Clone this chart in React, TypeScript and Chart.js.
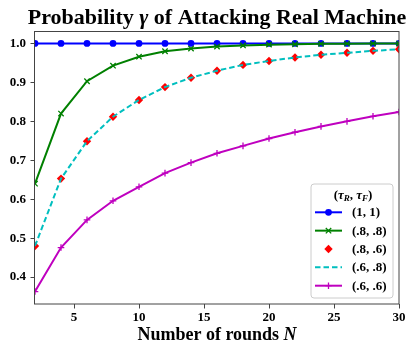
import React, { useEffect, useRef } from 'react';
import { Chart, registerables } from 'chart.js';

Chart.register(...registerables);

// ---- data ----
const rounds = [2, 4, 6, 8, 10, 12, 14, 16, 18, 20, 22, 24, 26, 28, 30];
const gamma11 = [1, 1, 1, 1, 1, 1, 1, 1, 1, 1, 1, 1, 1, 1, 1];
const gamma88 = [0.64, 0.82, 0.903, 0.943, 0.966, 0.98, 0.987, 0.992, 0.995, 0.997, 0.998, 0.999, 0.9995, 0.9997, 0.9998];
const gamma86 = [0.48, 0.653, 0.749, 0.812, 0.855, 0.888, 0.912, 0.93, 0.945, 0.955, 0.964, 0.971, 0.976, 0.981, 0.985];
const gamma68 = [0.48, 0.653, 0.749, 0.812, 0.855, 0.888, 0.912, 0.93, 0.945, 0.955, 0.964, 0.971, 0.976, 0.981, 0.985];
const gamma66 = [0.363, 0.476, 0.547, 0.596, 0.632, 0.667, 0.694, 0.718, 0.737, 0.756, 0.772, 0.787, 0.8, 0.813, 0.824];
const xTicks = [5, 10, 15, 20, 25, 30];
const yTicks = [0.4, 0.5, 0.6, 0.7, 0.8, 0.9, 1.0];
const seriesLabels = ['(1, 1)', '(.8, .8)', '(.8, .6)', '(.6, .8)', '(.6, .6)'];
const titleParts = ['Probability ', 'γ', ' of Attacking Real Machine'];
const xTitleParts = ['Number of rounds ', 'N'];

const FONT = "'Liberation Serif', 'Times New Roman', serif";
const BLUE = '#0000ff';
const GREEN = '#008000';
const RED = '#ff0000';
const CYAN = '#00bfbf';
const MAGENTA = '#bf00bf';
const SPINE = '#444444';

type Part = { t: string; font: string; dy?: number };

function drawRich(ctx: CanvasRenderingContext2D, parts: Part[], cx: number, y: number) {
  let total = 0;
  for (const p of parts) {
    ctx.font = p.font;
    total += ctx.measureText(p.t).width;
  }
  let x = cx - total / 2;
  ctx.textAlign = 'left';
  for (const p of parts) {
    ctx.font = p.font;
    ctx.fillText(p.t, x, y + (p.dy || 0));
    x += ctx.measureText(p.t).width;
  }
}

function drawMarker(ctx: CanvasRenderingContext2D, style: string, x: number, y: number, color: string) {
  ctx.save();
  ctx.fillStyle = color;
  ctx.strokeStyle = color;
  ctx.lineWidth = 1.3;
  ctx.beginPath();
  if (style === 'circle') {
    ctx.arc(x, y, 3.4, 0, Math.PI * 2);
    ctx.fill();
  } else if (style === 'crossRot') {
    const r = 3.2 * Math.SQRT1_2 * 1.2;
    ctx.moveTo(x - r, y - r); ctx.lineTo(x + r, y + r);
    ctx.moveTo(x - r, y + r); ctx.lineTo(x + r, y - r);
    ctx.stroke();
  } else if (style === 'rectRot') {
    const r = 4.2;
    ctx.moveTo(x - r, y); ctx.lineTo(x, y - r); ctx.lineTo(x + r, y); ctx.lineTo(x, y + r);
    ctx.closePath();
    ctx.fill();
  } else if (style === 'cross') {
    const r = 3.3;
    ctx.moveTo(x - r, y); ctx.lineTo(x + r, y);
    ctx.moveTo(x, y - r); ctx.lineTo(x, y + r);
    ctx.stroke();
  }
  ctx.restore();
}

const legendStyles = [
  { color: BLUE, line: true, dash: [] as number[], marker: 'circle' },
  { color: GREEN, line: true, dash: [] as number[], marker: 'crossRot' },
  { color: RED, line: false, dash: [] as number[], marker: 'rectRot' },
  { color: CYAN, line: true, dash: [5.5, 3], marker: '' },
  { color: MAGENTA, line: true, dash: [] as number[], marker: 'cross' },
];

const decorPlugin = {
  id: 'decor',
  afterDatasetsDraw(chart: any) {
    const { ctx, chartArea } = chart;
    const { left, right, top, bottom } = chartArea;
    ctx.save();
    ctx.strokeStyle = SPINE;
    ctx.lineWidth = 1;
    ctx.strokeRect(Math.round(left) - 0.5, Math.round(top) + 0.5, Math.round(right - left) + 0.5, Math.round(bottom - top) - 0.5);
    ctx.restore();
  },
  afterDraw(chart: any) {
    const { ctx, chartArea } = chart;
    const cx = (chartArea.left + chartArea.right) / 2;
    ctx.save();
    ctx.fillStyle = '#000';
    ctx.textBaseline = 'alphabetic';
    // title
    drawRich(ctx, [
      { t: titleParts[0], font: `bold 22px ${FONT}` },
      { t: titleParts[1], font: `italic bold 22px ${FONT}` },
      { t: titleParts[2], font: `bold 22px ${FONT}` },
    ], cx, 23.5);
    // x axis title
    drawRich(ctx, [
      { t: xTitleParts[0], font: `bold 18px ${FONT}` },
      { t: xTitleParts[1], font: `italic bold 18px ${FONT}` },
    ], cx, chartArea.bottom + 36);

    // legend
    const bx = chartArea.right - 88;
    const by = chartArea.bottom - 120;
    const bw = 82;
    const bh = 114;
    ctx.beginPath();
    const rr = 3;
    ctx.moveTo(bx + rr, by);
    ctx.arcTo(bx + bw, by, bx + bw, by + bh, rr);
    ctx.arcTo(bx + bw, by + bh, bx, by + bh, rr);
    ctx.arcTo(bx, by + bh, bx, by, rr);
    ctx.arcTo(bx, by, bx + bw, by, rr);
    ctx.closePath();
    ctx.fillStyle = 'rgba(255,255,255,0.85)';
    ctx.fill();
    ctx.strokeStyle = '#cccccc';
    ctx.lineWidth = 1;
    ctx.stroke();

    ctx.fillStyle = '#000';
    const big = `bold 13px ${FONT}`;
    const tau = `italic bold 13px ${FONT}`;
    const sub = `italic bold 9px ${FONT}`;
    drawRich(ctx, [
      { t: '(', font: big },
      { t: 'τ', font: tau },
      { t: 'R', font: sub, dy: 2.5 },
      { t: ', ', font: big },
      { t: 'τ', font: tau },
      { t: 'F', font: sub, dy: 2.5 },
      { t: ')', font: big },
    ], bx + 42, by + 14.5);

    for (let i = 0; i < seriesLabels.length; i++) {
      const s = legendStyles[i];
      const ry = by + 28.3 + i * 18.35;
      const lx0 = bx + 4;
      const lx1 = bx + 31;
      if (s.line) {
        ctx.save();
        ctx.strokeStyle = s.color;
        ctx.lineWidth = 2;
        ctx.setLineDash(s.dash);
        ctx.beginPath();
        ctx.moveTo(lx0, ry);
        ctx.lineTo(lx1, ry);
        ctx.stroke();
        ctx.restore();
      }
      if (s.marker) drawMarker(ctx, s.marker, (lx0 + lx1) / 2, ry, s.color);
      ctx.font = big;
      ctx.textAlign = 'left';
      ctx.textBaseline = 'middle';
      ctx.fillStyle = '#000';
      ctx.fillText(seriesLabels[i], bx + 41, ry + 0.5);
    }
    ctx.restore();
  },
};

export default function App() {
  const ref = useRef<HTMLCanvasElement | null>(null);
  useEffect(() => {
    document.body.style.margin = '0';
    const canvas = ref.current;
    if (!canvas) return;
    const mk = (vals: number[]) => rounds.map((x, i) => ({ x, y: vals[i] }));
    const chart = new Chart(canvas, {
      type: 'line',
      data: {
        datasets: [
          {
            label: seriesLabels[0], data: mk(gamma11), borderColor: BLUE, backgroundColor: BLUE,
            borderWidth: 2, pointStyle: 'circle', pointRadius: 3.4, pointBorderWidth: 0, order: 5, clip: 0,
          },
          {
            label: seriesLabels[1], data: mk(gamma88), borderColor: GREEN, backgroundColor: GREEN,
            borderWidth: 2, pointStyle: 'crossRot', pointRadius: 3.8, pointBorderWidth: 1.3, order: 4, clip: 0,
          },
          {
            label: seriesLabels[2], data: mk(gamma86), borderColor: RED, backgroundColor: RED,
            showLine: false, pointStyle: 'rectRot', pointRadius: 4.2, pointBorderWidth: 0, order: 3, clip: 0,
          },
          {
            label: seriesLabels[3], data: mk(gamma68), borderColor: CYAN, backgroundColor: CYAN,
            borderWidth: 2, borderDash: [5.5, 3], pointRadius: 0, order: 2, clip: 0,
          },
          {
            label: seriesLabels[4], data: mk(gamma66), borderColor: MAGENTA, backgroundColor: MAGENTA,
            borderWidth: 2, pointStyle: 'cross', pointRadius: 3.3, pointBorderWidth: 1.3, order: 1, clip: 0,
          },
        ] as any,
      },
      options: {
        animation: false,
        responsive: false,
        events: [],
        layout: { padding: { left: 0, right: 8, top: 31, bottom: 0 } },
        elements: { line: { tension: 0 } },
        plugins: { legend: { display: false }, title: { display: false }, tooltip: { enabled: false } },
        scales: {
          x: {
            type: 'linear',
            min: 2,
            max: 30,
            afterFit: (s: any) => { s.height = 42; },
            afterBuildTicks: (s: any) => { s.ticks = xTicks.map((v) => ({ value: v })); },
            border: { display: false },
            grid: { display: true, drawOnChartArea: false, drawTicks: true, tickLength: 4.5, tickColor: SPINE, tickWidth: 1 },
            ticks: {
              color: '#000', padding: 1.5, maxRotation: 0, autoSkip: false,
              font: { family: FONT, size: 13, weight: 'bold' },
              callback: (v: any) => String(v),
            },
          },
          y: {
            type: 'linear',
            min: 0.331,
            max: 1.032,
            afterFit: (s: any) => { s.width = 35; },
            afterBuildTicks: (s: any) => { s.ticks = yTicks.map((v) => ({ value: v })); },
            border: { display: false },
            grid: { display: true, drawOnChartArea: false, drawTicks: true, tickLength: 4.5, tickColor: SPINE, tickWidth: 1 },
            ticks: {
              color: '#000', padding: 4.5, autoSkip: false,
              font: { family: FONT, size: 13, weight: 'bold' },
              callback: (v: any) => Number(v).toFixed(1),
            },
          },
        },
      } as any,
      plugins: [decorPlugin],
    });
    return () => chart.destroy();
  }, []);
  return (
    <canvas ref={ref} width={407} height={346} style={{ display: 'block', width: 407, height: 346 }} />
  );
}
